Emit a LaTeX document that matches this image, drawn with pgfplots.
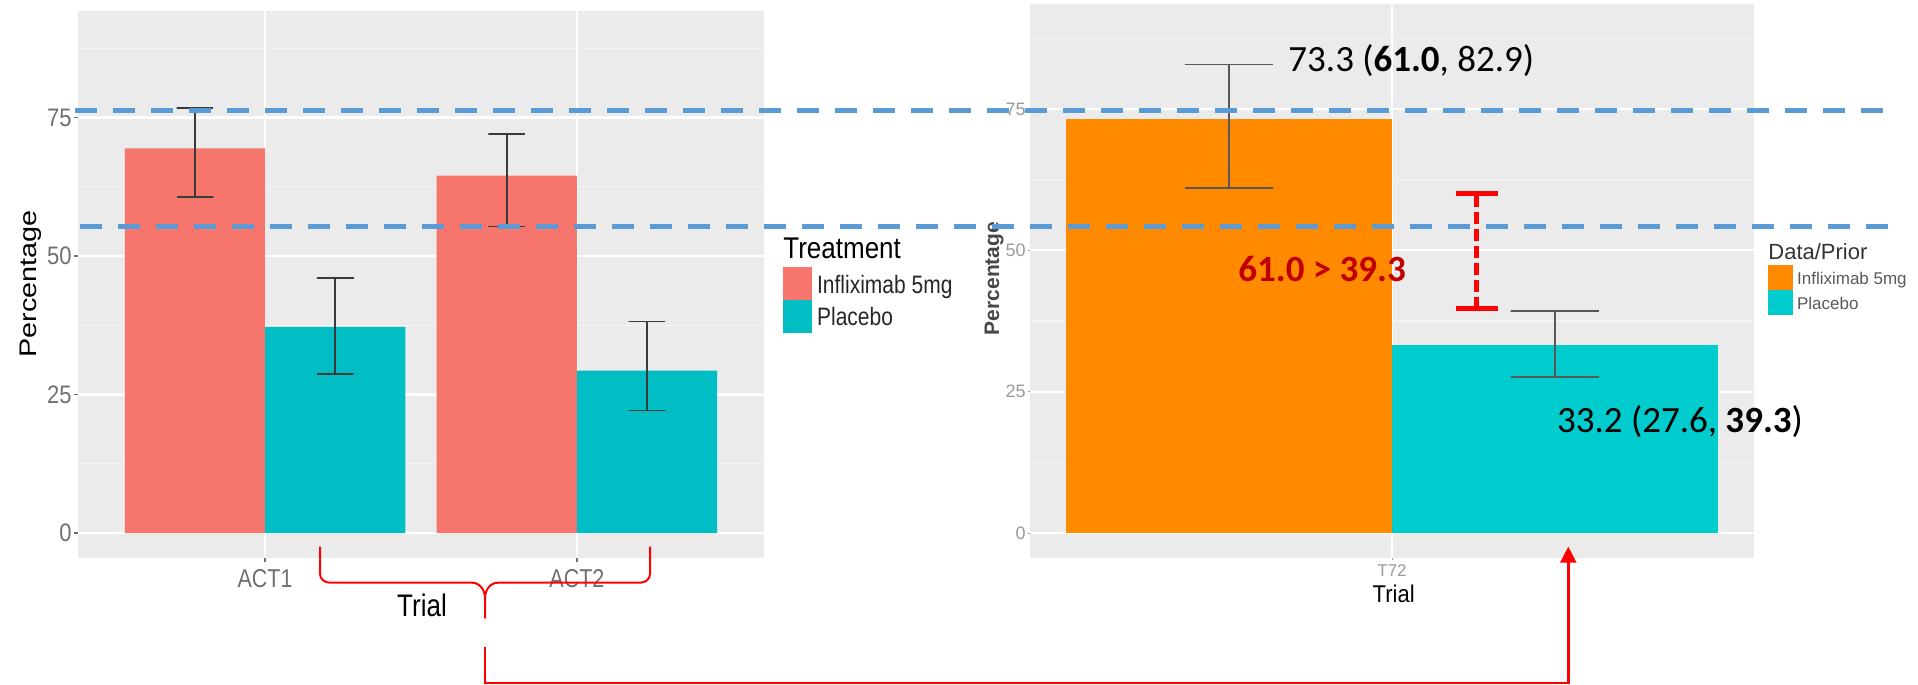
\documentclass[border=0pt]{standalone}
\usepackage{pgfplots}
\pgfplotsset{compat=1.18}
\usepackage{graphicx}
\usepackage{fontspec}
\setmainfont{Liberation Sans}
\newfontfamily\calibri{Carlito}
\usetikzlibrary{arrows.meta}
\definecolor{panel}{HTML}{EBEBEB}
\definecolor{minorgrid}{HTML}{F4F4F4}
\definecolor{ggred}{HTML}{F6766D}
\definecolor{ggcyan}{HTML}{00BEC4}
\definecolor{orng}{HTML}{FF8A00}
\definecolor{turq}{HTML}{00CCCE}
\definecolor{bluedash}{HTML}{5B9BD5}
\definecolor{darkred}{HTML}{C00000}
\definecolor{tickgrayL}{HTML}{707070}
\definecolor{tickgrayR}{HTML}{9A9A9A}
\definecolor{errcol}{HTML}{3A3A3A}
\newcommand{\fs}[1]{\fontsize{#1}{#1}\selectfont}
\newcommand{\vs}[2]{\scalebox{1}[#1]{#2}}
\pgfplotsset{errbar/.style={draw=errcol, line width=0.8pt, forget plot, mark=none}}
\begin{document}
\begin{tikzpicture}
\path[use as bounding box] (0,0) rectangle (959pt,342.5pt);
% ---------------- left panel ----------------
\begin{axis}[
  at={(39pt,63.5pt)}, anchor=south west,
  scale only axis, width=343pt, height=273.5pt,
  xmin=0.4, xmax=2.6, ymin=-4.51, ymax=94.22,
  axis background/.style={fill=panel},
  axis line style={draw=none},
  xtick={1,2}, xticklabels={\vs{1.2}{ACT1},\vs{1.2}{ACT2}},
  ytick={0,25,50,75}, yticklabels={\vs{1.15}{0},\vs{1.15}{25},\vs{1.15}{50},\vs{1.15}{75}},
  minor ytick={12.5,37.5,62.5,87.5},
  grid=both,
  major grid style={white, line width=1.1pt},
  minor grid style={minorgrid, line width=0.55pt},
  tick align=outside, xtick pos=bottom, ytick pos=left,
  major tick length=2pt, minor tick length=0pt,
  tick style={tickgrayL, line width=0.6pt},
  xticklabel style={font={\fs{10.75pt}}, text=tickgrayL},
  yticklabel style={font={\fs{11pt}}, text=tickgrayL, inner sep=1pt},
  clip=false,
]
% bars: Infliximab 5mg / Placebo
\addplot[ybar, bar width=0.45, fill=ggred, draw=none] coordinates {(0.775,69.4) (1.775,64.5)};
\addplot[ybar, bar width=0.45, fill=ggcyan, draw=none] coordinates {(1.225,37.2) (2.225,29.3)};
% 95% intervals
\addplot[errbar] coordinates {(0.716,60.6) (0.834,60.6) (0.775,60.6) (0.775,76.7) (0.716,76.7) (0.834,76.7)};
\addplot[errbar] coordinates {(1.166,28.7) (1.284,28.7) (1.225,28.7) (1.225,46.0) (1.166,46.0) (1.284,46.0)};
\addplot[errbar] coordinates {(1.716,55.3) (1.834,55.3) (1.775,55.3) (1.775,72.0) (1.716,72.0) (1.834,72.0)};
\addplot[errbar] coordinates {(2.166,22.1) (2.284,22.1) (2.225,22.1) (2.225,38.2) (2.166,38.2) (2.284,38.2)};
\end{axis}
% ---------------- right panel ----------------
\begin{axis}[
  at={(515pt,63.5pt)}, anchor=south west,
  scale only axis, width=362pt, height=276.8pt,
  xmin=0.5, xmax=1.5, ymin=-4.42, ymax=93.5,
  axis background/.style={fill=panel},
  axis line style={draw=none},
  xtick={1}, xticklabels={T72},
  ytick={0,25,50,75},
  yticklabels={0,25,50,75},
  minor ytick={12.5,37.5,62.5,87.5},
  grid=both,
  major grid style={white, line width=1.1pt},
  minor grid style={minorgrid, line width=0.55pt},
  tick align=outside, xtick pos=bottom, ytick pos=left,
  major tick length=1pt, minor tick length=0pt,
  tick style={tickgrayR, line width=0.5pt},
  xticklabel style={font={\fs{8.5pt}}, text=tickgrayR, inner sep=2pt},
  yticklabel style={font={\fs{9pt}}, text=tickgrayR, inner sep=1pt},
  clip=false,
]
\addplot[ybar, bar width=0.45, fill=orng, draw=none] coordinates {(0.775,73.3)};
\addplot[ybar, bar width=0.45, fill=turq, draw=none] coordinates {(1.225,33.2)};
\addplot[errbar, draw=errcol!85] coordinates {(0.714,61.0) (0.836,61.0) (0.775,61.0) (0.775,82.9) (0.714,82.9) (0.836,82.9)};
\addplot[errbar, draw=errcol!85] coordinates {(1.164,27.6) (1.286,27.6) (1.225,27.6) (1.225,39.3) (1.164,39.3) (1.286,39.3)};
% red dashed comparison bracket
\addplot[draw=red, line width=2.3pt, dash pattern=on 6pt off 2.5pt, forget plot]
  coordinates {(1.117,39.7) (1.117,60.1)};
\addplot[draw=red, line width=2.5pt, forget plot] coordinates {(1.088,60.1) (1.146,60.1)};
\addplot[draw=red, line width=2.5pt, forget plot] coordinates {(1.088,39.7) (1.146,39.7)};
\end{axis}
% ---------------- overlays (pixel coordinates) ----------------
\begin{scope}[x=0.5pt,y=-0.5pt,yshift=342.5pt]
% axis titles
\node[rotate=90, anchor=center, inner sep=0] at (31,284) {\fs{12pt}\scalebox{1.2}[1]{Percentage}};
\node[anchor=base, inner sep=0] at (422,616.7) {\fs{13pt}\vs{1.2}{Trial}};
\node[rotate=90, anchor=center, inner sep=0, text=black!72] at (994,278.5) {\fs{10.5pt}\bfseries Percentage};
\node[anchor=base, inner sep=0] at (1393.7,603) {\fs{11pt}\vs{1.1}{Trial}};
% left legend
\node[anchor=base west, inner sep=0] at (783,259) {\fs{13pt}\vs{1.15}{Treatment}};
\fill[ggred] (783,266.7) rectangle (812,300);
\fill[ggcyan] (783,300) rectangle (812,333);
\node[anchor=base west, inner sep=0, text=black!85] at (816.7,294) {\fs{10.5pt}\vs{1.2}{Infliximab 5mg}};
\node[anchor=base west, inner sep=0, text=black!85] at (816.7,326) {\fs{10.5pt}\vs{1.2}{Placebo}};
% right legend
\node[anchor=base west, inner sep=0, text=black!80] at (1768,259.5) {\fs{11pt}Data/Prior};
\fill[orng] (1768,265) rectangle (1793,290);
\fill[turq] (1768,290) rectangle (1793,315);
\node[anchor=base west, inner sep=0, text=black!65] at (1796.7,285) {\fs{8.5pt}Infliximab 5mg};
\node[anchor=base west, inner sep=0, text=black!65] at (1796.7,310) {\fs{8.5pt}Placebo};
% blue dashed reference lines
\draw[bluedash, line width=2.5pt, dash pattern=on 11pt off 8pt] (74.7,110.1) -- (1885.5,110.1);
\draw[bluedash, line width=2.5pt, dash pattern=on 11pt off 8pt] (79.6,226.7) -- (1891.6,226.7);
% annotations
\node[anchor=base west, inner sep=0] at (1288,71.7) {\calibri\fs{18.5pt}73.3 (\textbf{61.0}, 82.9)};
\node[anchor=base west, inner sep=0, text=darkred] at (1238,281.7) {\calibri\bfseries\fs{18.5pt}61.0 > 39.3};
\node[anchor=base west, inner sep=0] at (1556.7,433) {\calibri\fs{18.5pt}33.2 (27.6, \textbf{39.3})};
% brace under left panel
\draw[red, line width=1pt] (320,546.7) -- (320,574) to[out=-90,in=180] (330,582.7) -- (472,582.7) to[out=0,in=90] (485,598) -- (485,618.3);
\draw[red, line width=1pt] (485,598) to[out=90,in=180] (498,582.7) -- (640,582.7) to[out=0,in=-90] (650,574) -- (650,546.7);
% connector arrow
\draw[red, line width=1.2pt, -{Triangle[width=8pt,length=8pt]}] (485,646.7) -- (485,683) -- (1568.3,683) -- (1568.3,546.7);
\end{scope}
\end{tikzpicture}
\end{document}
